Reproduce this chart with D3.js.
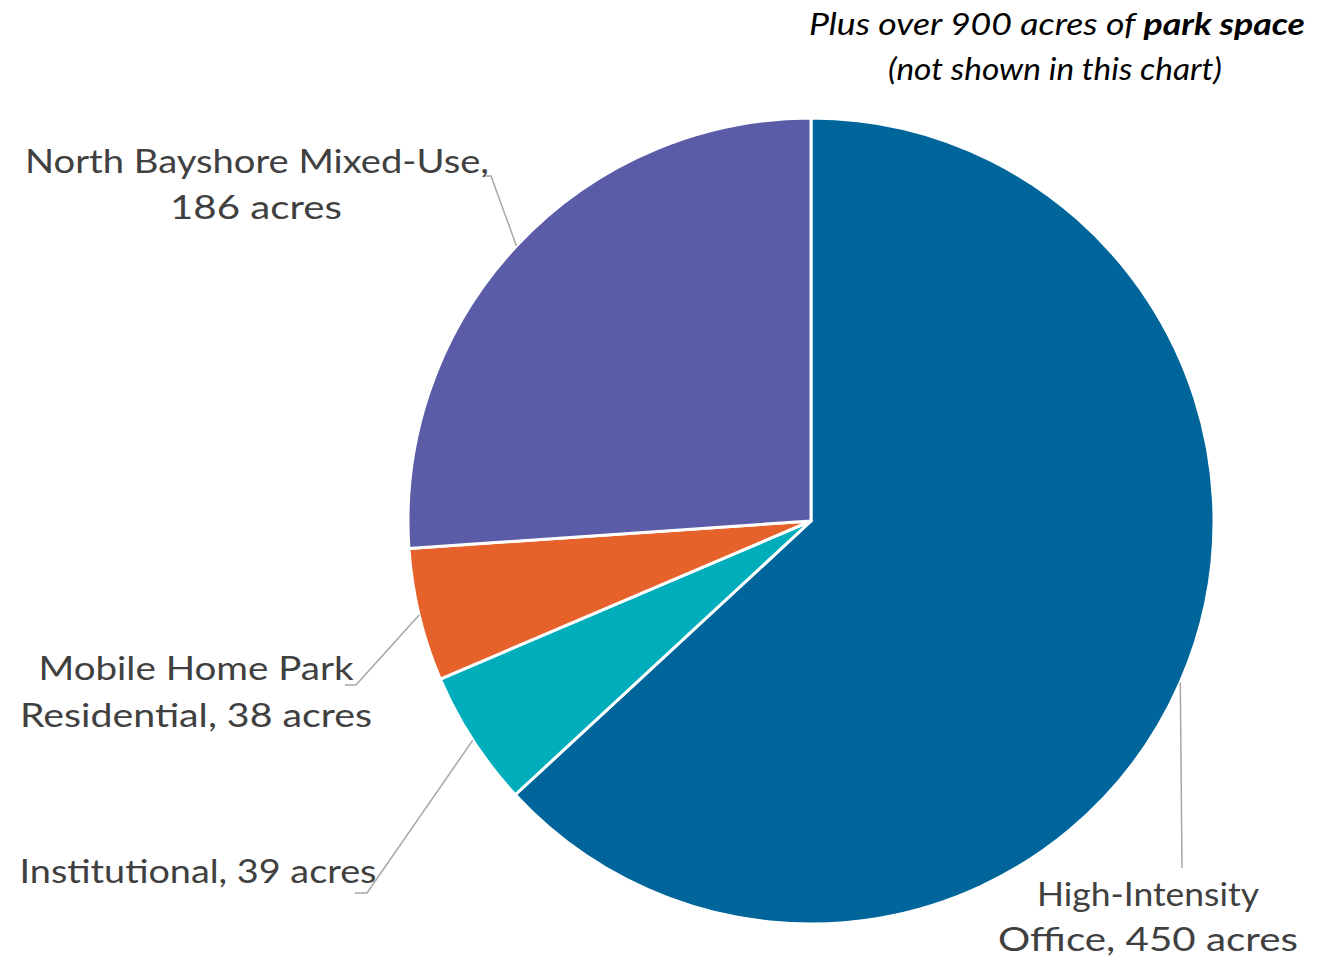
<!DOCTYPE html>
<html>
<head>
<meta charset="utf-8">
<script src="https://cdn.jsdelivr.net/npm/d3@7"></script>
<style>
  html, body { margin: 0; padding: 0; background: #ffffff; }
  svg { display: block; }
  text { font-family: "Lato", "Open Sans", sans-serif; }
</style>
</head>
<body>
<svg id="chart" width="1332" height="958"></svg>
<script>
// Land use acreage (park space excluded)
const categories = ["High-Intensity Office", "Institutional", "Mobile Home Park Residential", "North Bayshore Mixed-Use"];
const acres = [450, 39, 38, 186];
const colors = ["#00659a", "#00adbb", "#e6622a", "#5a5ca8"];
const labelLines = [
  ["High-Intensity", "Office, 450 acres"],
  ["Institutional, 39 acres"],
  ["Mobile Home Park", "Residential, 38 acres"],
  ["North Bayshore Mixed-Use,", "186 acres"]
];

// Label placement: text line positions/widths and leader elbows
const labelLayout = [
  { lines: [{ x: 1148, y: 906, w: 222 }, { x: 1148, y: 951, w: 300 }], leader: [[1182, 868]] },
  { lines: [{ x: 198, y: 883, w: 357 }], leader: [[367, 893], [355, 893]] },
  { lines: [{ x: 196, y: 680, w: 315 }, { x: 196, y: 727, w: 352 }], leader: [[356, 685], [345, 685]] },
  { lines: [{ x: 257, y: 173, w: 464 }, { x: 256, y: 219, w: 172 }], leader: [[491, 176], [484, 176]] }
];

const svg = d3.select("#chart");
const cx = 811, cy = 521, radius = 403;

const data = categories.map((c, i) => ({ name: c, value: acres[i], color: colors[i], lines: labelLines[i], layout: labelLayout[i] }));

const pie = d3.pie().value(d => d.value).sort(null).startAngle(0).endAngle(2 * Math.PI);
const arc = d3.arc().innerRadius(0).outerRadius(radius);
const arcs = pie(data);

const g = svg.append("g").attr("transform", `translate(${cx},${cy})`);

g.selectAll("path.slice")
  .data(arcs)
  .join("path")
  .attr("class", "slice")
  .attr("d", arc)
  .attr("fill", d => d.data.color)
  .attr("stroke", "#ffffff")
  .attr("stroke-width", 3)
  .attr("stroke-linejoin", "round");

// Leader lines from the slice's outer edge at its mid-angle
const line = d3.line();
svg.selectAll("path.leader")
  .data(arcs)
  .join("path")
  .attr("class", "leader")
  .attr("d", d => {
    const a = (d.startAngle + d.endAngle) / 2;
    const start = [cx + radius * Math.sin(a), cy - radius * Math.cos(a)];
    return line([start, ...d.data.layout.leader]);
  })
  .attr("fill", "none")
  .attr("stroke", "#a6a6a6")
  .attr("stroke-width", 1.5);

// Category labels
arcs.forEach(d => {
  d.data.lines.forEach((t, j) => {
    const p = d.data.layout.lines[j];
    svg.append("text")
      .attr("x", p.x)
      .attr("y", p.y)
      .attr("text-anchor", "middle")
      .attr("font-size", 33)
      .attr("fill", "#404040")
      .attr("textLength", p.w)
      .attr("lengthAdjust", "spacingAndGlyphs")
      .text(t);
  });
});

// Note about park space
const note1 = svg.append("text")
  .attr("x", 1057).attr("y", 35)
  .attr("text-anchor", "middle")
  .attr("font-size", 30)
  .attr("font-style", "italic")
  .attr("fill", "#000000")
  .attr("textLength", 496)
  .attr("lengthAdjust", "spacingAndGlyphs");
note1.append("tspan").text("Plus over 900 acres of ");
note1.append("tspan").attr("font-weight", "bold").text("park space");

svg.append("text")
  .attr("x", 1055).attr("y", 80)
  .attr("text-anchor", "middle")
  .attr("font-size", 30)
  .attr("font-style", "italic")
  .attr("fill", "#000000")
  .attr("textLength", 334)
  .attr("lengthAdjust", "spacingAndGlyphs")
  .text("(not shown in this chart)");
</script>
</body>
</html>
